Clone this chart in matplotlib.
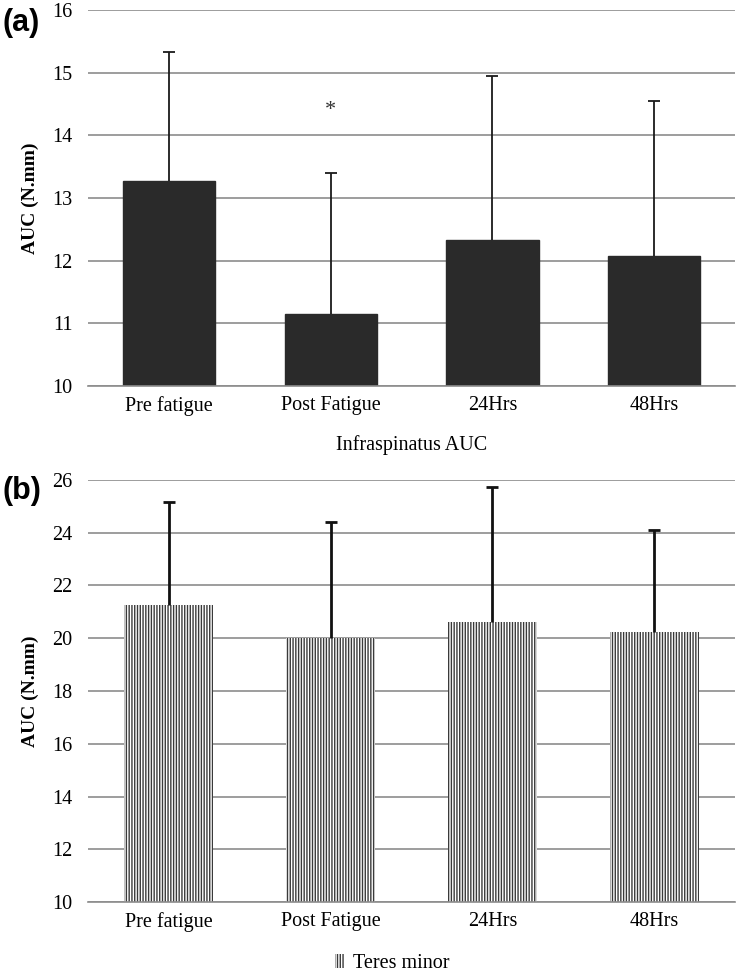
import numpy as np
import matplotlib.pyplot as plt
from matplotlib.patches import Patch

plt.rcParams['font.family'] = ['Liberation Serif', 'DejaVu Serif']
plt.rcParams['hatch.linewidth'] = 1.0

categories = ['Pre fatigue', 'Post Fatigue', '24Hrs', '48Hrs']

# (a) Infraspinatus AUC
infra_mean = [13.27, 11.15, 12.33, 12.08]
infra_sd = [2.06, 2.25, 2.62, 2.47]
infra_star_idx = 1
infra_star_y = 14.39

# (b) Teres minor AUC
teres_mean = [21.25, 20.0, 20.6, 20.25]
teres_sd = [3.9, 4.4, 5.15, 3.85]

fig = plt.figure(figsize=(7.37, 9.72), dpi=100)
ax1 = fig.add_axes([0.1194, 0.6029, 0.878, 0.3868])
ax2 = fig.add_axes([0.1194, 0.0720, 0.878, 0.4342])

x = np.arange(len(categories))

def style(ax, lo, hi, step):
    ax.set_ylim(lo, hi)
    ax.set_xlim(-0.5, len(categories) - 0.5)
    ax.set_yticks(np.arange(lo, hi + 0.01, step))
    ax.yaxis.grid(True, color='#8c8c8c', linewidth=1.2)
    ax.set_axisbelow(True)
    for s in ['top', 'right', 'left']:
        ax.spines[s].set_visible(False)
    ax.spines['bottom'].set_color('#8c8c8c')
    ax.spines['bottom'].set_linewidth(1.2)
    ax.tick_params(length=0, labelsize=14.5)
    ax.tick_params(axis='x', pad=7)
    ax.tick_params(axis='y', pad=11)
    ax.set_xticks(x)
    ax.set_xticklabels(categories)
    ax.set_ylabel('AUC (N.mm)', fontsize=14, fontweight='bold', labelpad=10)

def upper_err(ax, mean, sd, color, lw):
    top = np.array(mean) + np.array(sd)
    ax.vlines(x, mean, top, color=color, linewidth=lw, zorder=3)
    ax.plot(x, top, linestyle='none', marker='_', markersize=9,
            markeredgewidth=lw, color=color, zorder=3)

# panel a
ax1.bar(x, infra_mean, width=0.57, color='#2a2a2a', edgecolor='#2a2a2a', zorder=2)
upper_err(ax1, infra_mean, infra_sd, '#1a1a1a', 1.3)
ax1.text(x[infra_star_idx], infra_star_y, '*', ha='center', va='center', fontsize=16, color='#333333')
style(ax1, 10, 16, 1)
ax1.set_xlabel('Infraspinatus AUC', fontsize=14.5, labelpad=14)

# panel b
ax2.bar(x, teres_mean, width=0.55, color='white', edgecolor='#3a3a3a',
        hatch='||||||', linewidth=0, zorder=2)
upper_err(ax2, teres_mean, teres_sd, '#111111', 2)
style(ax2, 10, 26, 2)

handle = Patch(facecolor='white', edgecolor='#3a3a3a', hatch='||||||', linewidth=0)
ax2.legend([handle], ['Teres minor'], loc='upper center', bbox_to_anchor=(0.47, -0.08),
           frameon=False, fontsize=14.5, handlelength=0.5, handleheight=0.7, handletextpad=0.4)

fig.text(0.003, 0.992, '(a)', fontsize=22, fontweight='bold', family='Liberation Sans', va='top')
fig.text(0.003, 0.510, '(b)', fontsize=22, fontweight='bold', family='Liberation Sans', va='top')

fig.savefig('out.png', dpi=100)
